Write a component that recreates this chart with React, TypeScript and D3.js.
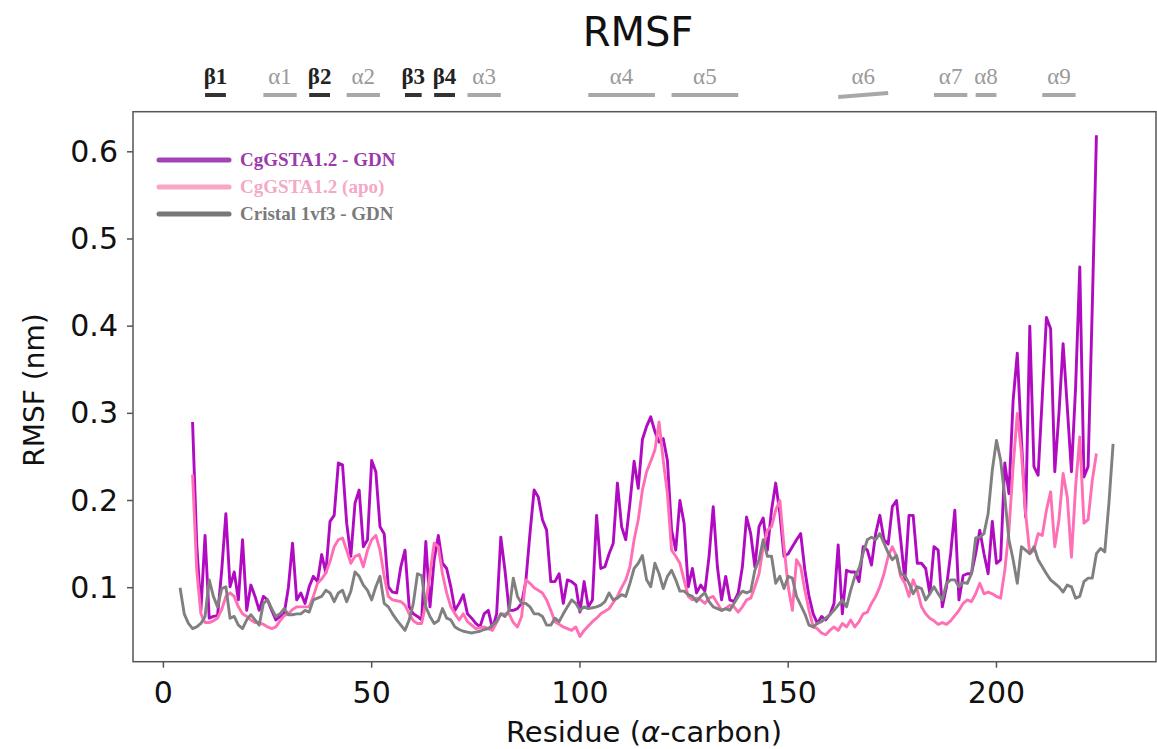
import React, { useRef, useEffect } from "react";
import * as d3 from "d3";

// RMSF per residue (nm)
const gdnStart = 7;
const gdnValues = [
  0.29, 0.15, 0.074, 0.16, 0.065, 0.067, 0.068, 0.12, 0.185, 0.101,
  0.118, 0.086, 0.155, 0.074, 0.103, 0.09, 0.074, 0.09, 0.086, 0.074,
  0.063, 0.067, 0.07, 0.1, 0.151, 0.086, 0.094, 0.082, 0.101, 0.113,
  0.107, 0.138, 0.117, 0.176, 0.183, 0.243, 0.241, 0.174, 0.136, 0.197,
  0.212, 0.147, 0.155, 0.246, 0.233, 0.17, 0.162, 0.101, 0.095, 0.094,
  0.124, 0.143, 0.078, 0.07, 0.067, 0.063, 0.153, 0.078, 0.132, 0.16,
  0.128, 0.122, 0.101, 0.074, 0.082, 0.092, 0.07, 0.065, 0.059, 0.055,
  0.07, 0.074, 0.053, 0.07, 0.158, 0.12, 0.074, 0.074, 0.076, 0.082,
  0.107, 0.162, 0.212, 0.204, 0.178, 0.166, 0.107, 0.107, 0.116, 0.082,
  0.109, 0.107, 0.103, 0.072, 0.107, 0.078, 0.086, 0.183, 0.122, 0.124,
  0.139, 0.151, 0.22, 0.17, 0.155, 0.197, 0.245, 0.214, 0.27, 0.285,
  0.296, 0.279, 0.267, 0.271, 0.246, 0.166, 0.143, 0.2, 0.174, 0.101,
  0.122, 0.094, 0.103, 0.096, 0.136, 0.193, 0.124, 0.086, 0.113, 0.086,
  0.084, 0.094, 0.124, 0.181, 0.162, 0.124, 0.17, 0.18, 0.143, 0.189,
  0.22, 0.185, 0.136, 0.139, 0.147, 0.155, 0.162, 0.12, 0.09, 0.07,
  0.059, 0.067, 0.063, 0.069, 0.082, 0.149, 0.07, 0.12, 0.118, 0.118,
  0.107, 0.147, 0.143, 0.126, 0.162, 0.183, 0.155, 0.15, 0.193, 0.2,
  0.155, 0.109, 0.183, 0.183, 0.128, 0.128, 0.122, 0.093, 0.147, 0.143,
  0.078, 0.101, 0.139, 0.189, 0.086, 0.114, 0.116, 0.116, 0.139, 0.166,
  0.139, 0.116, 0.176, 0.128, 0.132, 0.243, 0.208, 0.315, 0.369, 0.269,
  0.181, 0.4, 0.239, 0.229, 0.319, 0.41, 0.397, 0.233, 0.3, 0.38,
  0.307, 0.233, 0.33, 0.468, 0.227, 0.239, 0.422, 0.619,
];

const apoStart = 7;
const apoValues = [
  0.23, 0.12, 0.07, 0.06, 0.06, 0.062, 0.065, 0.075, 0.09, 0.094,
  0.09, 0.078, 0.07, 0.067, 0.063, 0.06, 0.06, 0.058, 0.055, 0.053,
  0.055, 0.062, 0.068, 0.07, 0.075, 0.078, 0.078, 0.078, 0.078, 0.09,
  0.105, 0.11, 0.117, 0.13, 0.147, 0.155, 0.157, 0.143, 0.128, 0.136,
  0.138, 0.124, 0.143, 0.155, 0.16, 0.143, 0.113, 0.09, 0.086, 0.085,
  0.084, 0.08, 0.07, 0.062, 0.059, 0.059, 0.082, 0.116, 0.151, 0.147,
  0.116, 0.094, 0.078, 0.07, 0.063, 0.07, 0.061, 0.057, 0.053, 0.054,
  0.055, 0.053, 0.051, 0.06, 0.07, 0.07, 0.07, 0.06, 0.055, 0.067,
  0.109, 0.105, 0.1, 0.097, 0.094, 0.086, 0.074, 0.061, 0.058, 0.055,
  0.053, 0.051, 0.055, 0.044, 0.051, 0.056, 0.061, 0.065, 0.07, 0.073,
  0.076, 0.083, 0.09, 0.1, 0.109, 0.124, 0.155, 0.178, 0.212, 0.233,
  0.245, 0.258, 0.29, 0.246, 0.208, 0.143, 0.136, 0.128, 0.109, 0.09,
  0.086, 0.088, 0.086, 0.082, 0.088, 0.09, 0.082, 0.074, 0.076, 0.08,
  0.078, 0.072, 0.078, 0.086, 0.088, 0.101, 0.116, 0.147, 0.166, 0.17,
  0.189, 0.2, 0.147, 0.101, 0.074, 0.132, 0.124, 0.097, 0.074, 0.055,
  0.053, 0.048, 0.046, 0.051, 0.055, 0.051, 0.059, 0.055, 0.063, 0.055,
  0.061, 0.07, 0.072, 0.082, 0.09, 0.101, 0.116, 0.136, 0.147, 0.136,
  0.113, 0.105, 0.09, 0.109, 0.097, 0.078, 0.07, 0.065, 0.062, 0.058,
  0.06, 0.058, 0.062, 0.068, 0.074, 0.082, 0.086, 0.084, 0.093, 0.105,
  0.093, 0.095, 0.093, 0.09, 0.088, 0.12, 0.166, 0.239, 0.3, 0.254,
  0.185, 0.139, 0.143, 0.162, 0.16, 0.189, 0.21, 0.147, 0.178, 0.231,
  0.204, 0.135, 0.216, 0.273, 0.174, 0.178, 0.223, 0.254,
];

const crystalStart = 4;
const crystalValues = [
  0.1, 0.07, 0.059, 0.053, 0.055, 0.059, 0.067, 0.109, 0.09, 0.078,
  0.099, 0.101, 0.065, 0.067, 0.057, 0.053, 0.063, 0.069, 0.063, 0.057,
  0.082, 0.086, 0.076, 0.067, 0.07, 0.076, 0.069, 0.069, 0.07, 0.07,
  0.074, 0.072, 0.086, 0.088, 0.09, 0.097, 0.094, 0.084, 0.094, 0.097,
  0.084, 0.096, 0.118, 0.113, 0.103, 0.097, 0.086, 0.101, 0.113, 0.082,
  0.078, 0.07, 0.063, 0.057, 0.051, 0.063, 0.082, 0.116, 0.114, 0.078,
  0.067, 0.059, 0.062, 0.076, 0.065, 0.063, 0.055, 0.052, 0.05, 0.049,
  0.048, 0.049, 0.05, 0.052, 0.053, 0.057, 0.061, 0.07, 0.067, 0.074,
  0.111, 0.09, 0.082, 0.082, 0.078, 0.07, 0.07, 0.067, 0.057, 0.057,
  0.065, 0.061, 0.07, 0.078, 0.086, 0.082, 0.074, 0.078, 0.076, 0.077,
  0.078, 0.08, 0.084, 0.094, 0.086, 0.088, 0.092, 0.09, 0.105, 0.122,
  0.128, 0.137, 0.109, 0.101, 0.128, 0.116, 0.099, 0.113, 0.12, 0.109,
  0.096, 0.096, 0.092, 0.09, 0.084, 0.09, 0.094, 0.084, 0.078, 0.076,
  0.074, 0.076, 0.074, 0.082, 0.09, 0.096, 0.094, 0.096, 0.12, 0.132,
  0.155, 0.136, 0.136, 0.105, 0.113, 0.099, 0.113, 0.111, 0.09, 0.08,
  0.07, 0.057, 0.055, 0.059, 0.061, 0.065, 0.069, 0.074, 0.08, 0.086,
  0.078, 0.097, 0.113, 0.122, 0.14, 0.155, 0.158, 0.155, 0.162, 0.151,
  0.14, 0.132, 0.137, 0.116, 0.114, 0.105, 0.093, 0.101, 0.099, 0.086,
  0.093, 0.101, 0.093, 0.086, 0.105, 0.109, 0.109, 0.101, 0.106, 0.105,
  0.116, 0.157, 0.158, 0.162, 0.185, 0.235, 0.269, 0.246, 0.204, 0.155,
  0.132, 0.105, 0.147, 0.143, 0.139, 0.147, 0.132, 0.124, 0.116, 0.109,
  0.105, 0.101, 0.095, 0.103, 0.101, 0.088, 0.09, 0.107, 0.111, 0.111,
  0.139, 0.145, 0.141, 0.197, 0.265,
];

const seriesNames = ["CgGSTA1.2 - GDN", "CgGSTA1.2 (apo)", "Cristal 1vf3 - GDN"];
const xTicks = [0, 50, 100, 150, 200];
const yTicks = [0.1, 0.2, 0.3, 0.4, 0.5, 0.6];

// elementos de estructura secundaria (residuo inicial / final)
const ssLabels = ["β1", "α1", "β2", "α2", "β3", "β4", "α3", "α4", "α5", "α6", "α7", "α8", "α9"];
const ssStart = [10, 24, 35, 44, 58, 65, 73, 102, 122, 162, 185, 195, 211];
const ssEnd = [15, 32, 40, 52, 62, 70, 81, 118, 138, 174, 193, 200, 219];

const W = 1157;
const H = 749;

const RMSFChart = () => {
  const ref = useRef(null);

  useEffect(() => {
    const svg = d3.select(ref.current);
    svg.selectChildren().remove();

    const left = 133, right = 1156, top = 111.7, bottom = 661.7;
    const x = d3.scaleLinear().domain([-7.3, 238.3]).range([left, right]);
    const y = d3.scaleLinear().domain([0.0151, 0.646]).range([bottom, top]);

    const series = [
      { name: seriesNames[0], start: gdnStart, values: gdnValues, color: "#b10bc2", legend: "#a443b5", text: "#9b3aab" },
      { name: seriesNames[1], start: apoStart, values: apoValues, color: "#ff6fb5", legend: "#f8a6c6", text: "#f4a9c6" },
      { name: seriesNames[2], start: crystalStart, values: crystalValues, color: "#808080", legend: "#787878", text: "#7a7a7a" },
    ];

    svg.append("rect").attr("width", W).attr("height", H).attr("fill", "#fff");

    // Título
    svg.append("text")
      .attr("x", 638).attr("y", 46)
      .attr("text-anchor", "middle")
      .style("font-family", "DejaVu Sans")
      .style("font-size", "40px")
      .attr("fill", "#111")
      .text("RMSF");

    // estructura secundaria
    const ss = ssLabels.map((label, i) => ({ label, s: ssStart[i], e: ssEnd[i], beta: label.startsWith("β") }));
    const ssg = svg.append("g");
    ssg.selectAll("line").data(ss).enter().append("line")
      .attr("x1", (d) => x(d.s)).attr("x2", (d) => x(d.e))
      .attr("y1", (d) => (d.label === "α6" ? 97 : 95))
      .attr("y2", (d) => (d.label === "α6" ? 93 : 95))
      .attr("stroke", (d) => (d.beta ? "#333" : "#a8a8a8"))
      .attr("stroke-width", 4);
    ssg.selectAll("text").data(ss).enter().append("text")
      .attr("x", (d) => x((d.s + d.e) / 2))
      .attr("y", 84)
      .attr("text-anchor", "middle")
      .style("font-family", "Liberation Serif")
      .style("font-size", "23px")
      .style("font-weight", (d) => (d.beta ? "bold" : "normal"))
      .attr("fill", (d) => (d.beta ? "#222" : "#9a9a9a"))
      .text((d) => d.label);

    // clip
    svg.append("clipPath").attr("id", "plotclip")
      .append("rect").attr("x", left).attr("y", top).attr("width", right - left).attr("height", bottom - top);

    const line = d3.line().x((d) => x(d[0])).y((d) => y(d[1]));
    const lines = svg.append("g").attr("clip-path", "url(#plotclip)");
    series.forEach((s) => {
      lines.append("path")
        .datum(s.values.map((v, i) => [s.start + i, v]))
        .attr("d", line)
        .attr("fill", "none")
        .attr("stroke", s.color)
        .attr("stroke-width", 2.9)
        .attr("stroke-linejoin", "round");
    });

    // spines
    svg.append("rect")
      .attr("x", left).attr("y", top).attr("width", right - left).attr("height", bottom - top)
      .attr("fill", "none").attr("stroke", "#555").attr("stroke-width", 1.5);

    // ejes
    const xAxis = svg.append("g").attr("transform", `translate(0,${bottom})`);
    xAxis.selectAll("line").data(xTicks).enter().append("line")
      .attr("x1", (d) => x(d)).attr("x2", (d) => x(d))
      .attr("y1", 0).attr("y2", 6).attr("stroke", "#555").attr("stroke-width", 1.5);
    xAxis.selectAll("text").data(xTicks).enter().append("text")
      .attr("x", (d) => x(d)).attr("y", 41)
      .attr("text-anchor", "middle")
      .style("font-family", "DejaVu Sans").style("font-size", "30px")
      .attr("fill", "#111")
      .text((d) => d);

    const yAxis = svg.append("g").attr("transform", `translate(${left},0)`);
    yAxis.selectAll("line").data(yTicks).enter().append("line")
      .attr("x1", -6).attr("x2", 0)
      .attr("y1", (d) => y(d)).attr("y2", (d) => y(d)).attr("stroke", "#555").attr("stroke-width", 1.5);
    yAxis.selectAll("text").data(yTicks).enter().append("text")
      .attr("x", -15).attr("y", (d) => y(d) + 10)
      .attr("text-anchor", "end")
      .style("font-family", "DejaVu Sans").style("font-size", "30px")
      .attr("fill", "#111")
      .text((d) => d3.format(".1f")(d));

    // etiquetas de ejes
    const xl = svg.append("text")
      .attr("x", 644).attr("y", 742)
      .attr("text-anchor", "middle")
      .style("font-family", "DejaVu Sans").style("font-size", "29px")
      .attr("fill", "#111");
    xl.append("tspan").text("Residue (");
    xl.append("tspan").style("font-style", "italic").text("α");
    xl.append("tspan").text("-carbon)");

    svg.append("text")
      .attr("transform", "translate(44,390) rotate(-90)")
      .attr("text-anchor", "middle")
      .style("font-family", "DejaVu Sans").style("font-size", "28px")
      .attr("fill", "#111")
      .text("RMSF (nm)");

    // leyenda
    const lg = svg.append("g");
    series.forEach((s, i) => {
      const ly = 160 + i * 27;
      lg.append("line")
        .attr("x1", 159).attr("x2", 229).attr("y1", ly).attr("y2", ly)
        .attr("stroke", s.legend).attr("stroke-width", 5).attr("stroke-linecap", "round");
      lg.append("text")
        .attr("x", 240).attr("y", ly + 6)
        .style("font-family", "Liberation Serif").style("font-size", "19px").style("font-weight", "bold")
        .attr("fill", s.text)
        .text(s.name);
    });
  }, []);

  return <svg ref={ref} width={W} height={H} style={{ position: "absolute", left: 0, top: 0 }} />;
};

export default function App() {
  return <RMSFChart />;
}
